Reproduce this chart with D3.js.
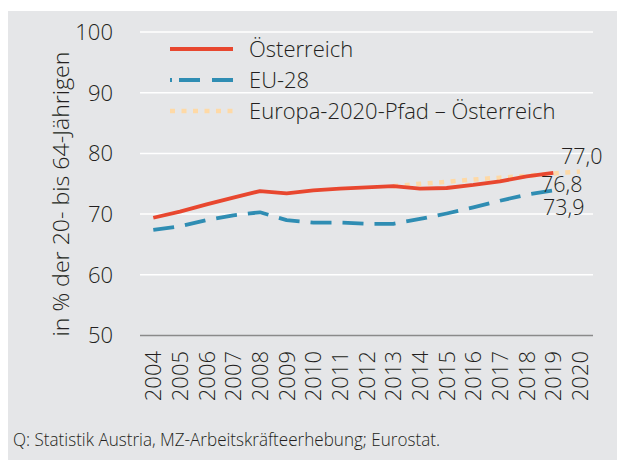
<!DOCTYPE html>
<html>
<head>
<meta charset="utf-8">
<script src="https://cdn.jsdelivr.net/npm/d3@7"></script>
<style>
  body { margin: 0; background: #fff; }
  svg text { font-family: "Open Sans", "Liberation Sans", Arial, sans-serif; font-weight: 300; fill: #231f20; }
</style>
</head>
<body>
<svg width="617" height="467"></svg>
<script>
// data
var years = [2004, 2005, 2006, 2007, 2008, 2009, 2010, 2011, 2012, 2013, 2014, 2015, 2016, 2017, 2018, 2019];
var oesterreich = [69.4, 70.4, 71.6, 72.7, 73.8, 73.4, 73.9, 74.2, 74.4, 74.6, 74.2, 74.3, 74.8, 75.4, 76.2, 76.8];
var eu28 = [67.4, 68.0, 69.0, 69.8, 70.3, 69.0, 68.6, 68.6, 68.4, 68.4, 69.2, 70.1, 71.1, 72.2, 73.2, 73.9];
var pfadYears = [2013, 2014, 2015, 2016, 2017, 2018, 2019, 2020];
var pfad = [74.6, 75.0, 75.3, 75.7, 76.0, 76.3, 76.7, 77.0];
var xTickLabels = ["2004", "2005", "2006", "2007", "2008", "2009", "2010", "2011", "2012", "2013", "2014", "2015", "2016", "2017", "2018", "2019", "2020"];
var yTicks = [50, 60, 70, 80, 90, 100];
var legendNames = ["Österreich", "EU-28", "Europa-2020-Pfad – Österreich"];
var endLabels = [
  { text: "77,0", value: 77.0 },
  { text: "76,8", value: 76.8 },
  { text: "73,9", value: 73.9 }
];

var red = "#e8472f";
var blue = "#2f8db3";
var orange = "#fed9a6";

var svg = d3.select("svg");

// grey panel
svg.append("rect")
  .attr("x", 8).attr("y", 11)
  .attr("width", 609).attr("height", 449)
  .attr("fill", "#e5e6e8");

var x = d3.scaleLinear().domain([2004, 2020]).range([153.3, 580]);
var y = d3.scaleLinear().domain([50, 100]).range([335.5, 32]);

// gridlines
svg.append("g")
  .selectAll("line")
  .data(yTicks)
  .join("line")
  .attr("x1", 140).attr("x2", 593)
  .attr("y1", d => y(d)).attr("y2", d => y(d))
  .attr("stroke", d => d === 50 ? "#8a8a8a" : "#fff")
  .attr("stroke-width", 1.5);

// y tick labels
svg.append("g")
  .selectAll("text")
  .data(yTicks)
  .join("text")
  .attr("x", 113)
  .attr("y", d => y(d))
  .attr("dy", "0.36em")
  .attr("text-anchor", "end")
  .attr("font-size", 22)
  .text(d => d);

// y axis title
svg.append("text")
  .attr("transform", "translate(69," + 194 + ") rotate(-90)")
  .attr("text-anchor", "middle")
  .attr("font-size", 21.5)
  .attr("textLength", 285)
  .attr("lengthAdjust", "spacingAndGlyphs")
  .text("in % der 20- bis 64-Jährigen");

// x tick labels, rotated
svg.append("g")
  .selectAll("text")
  .data(xTickLabels)
  .join("text")
  .attr("transform", d => "translate(" + x(+d) + ",351) rotate(-90)")
  .attr("dy", "0.36em")
  .attr("text-anchor", "end")
  .attr("font-size", 22)
  .text(d => d);

var line = d3.line()
  .x(d => x(d[0]))
  .y(d => y(d[1]));

svg.append("path")
  .datum(d3.zip(pfadYears, pfad))
  .attr("d", line)
  .attr("fill", "none")
  .attr("stroke", orange)
  .attr("stroke-width", 4.5)
  .attr("stroke-dasharray", "5,6.5");

svg.append("path")
  .datum(d3.zip(years, eu28))
  .attr("d", line)
  .attr("fill", "none")
  .attr("stroke", blue)
  .attr("stroke-width", 3.8)
  .attr("stroke-linejoin", "round")
  .attr("stroke-dasharray", "21,11");

svg.append("path")
  .datum(d3.zip(years, oesterreich))
  .attr("d", line)
  .attr("fill", "none")
  .attr("stroke", red)
  .attr("stroke-linejoin", "round")
  .attr("stroke-width", 3.8);

// end labels
var labelPos = [[561, 163.5], [541, 192], [543, 214.5]];
svg.append("g")
  .selectAll("text")
  .data(endLabels)
  .join("text")
  .attr("x", (d, i) => labelPos[i][0])
  .attr("y", (d, i) => labelPos[i][1])
  .attr("font-size", 21.5)
  .text(d => d.text);

// legend
var legendStyles = [
  { color: red, dash: null },
  { color: blue, dash: "2,7,21,12,21,50" },
  { color: orange, dash: "5,6.5" }
];
var legendY = [49, 80, 111];
var legend = svg.append("g")
  .selectAll("g")
  .data(legendNames)
  .join("g")
  .attr("transform", (d, i) => "translate(0," + legendY[i] + ")");

legend.append("line")
  .attr("x1", 170).attr("x2", 233)
  .attr("stroke", (d, i) => legendStyles[i].color)
  .attr("stroke-width", (d, i) => i === 2 ? 4.5 : 3.8)
  .attr("stroke-dasharray", (d, i) => legendStyles[i].dash);

legend.append("text")
  .attr("x", 249)
  .attr("dy", "0.36em")
  .attr("font-size", 22)
  .text(d => d);

// source
svg.append("text")
  .attr("x", 13)
  .attr("y", 446)
  .attr("font-size", 18)
  .attr("font-weight", 400)
  .attr("textLength", 427)
  .attr("lengthAdjust", "spacingAndGlyphs")
  .text("Q: Statistik Austria, MZ-Arbeitskräfteerhebung; Eurostat.");
</script>
</body>
</html>
